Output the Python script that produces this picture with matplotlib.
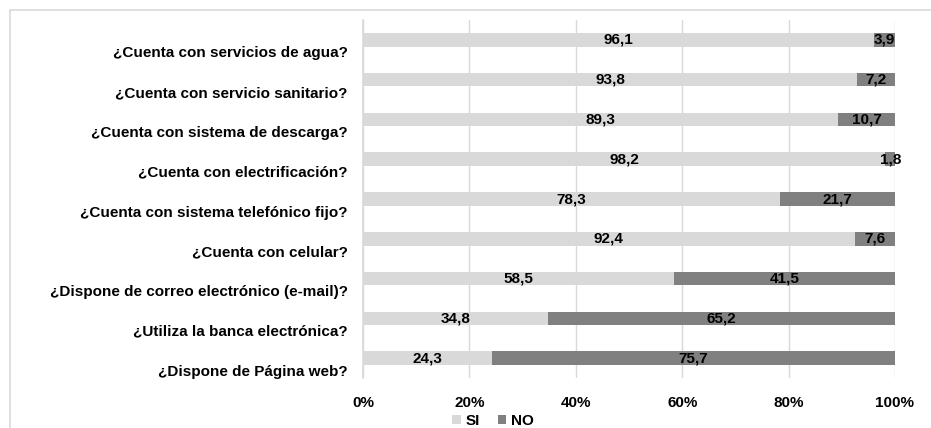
import matplotlib
matplotlib.use('Agg')
import matplotlib.pyplot as plt
import matplotlib.transforms as mtransforms
import numpy as np
from matplotlib.patches import Rectangle

matplotlib.rcParams['font.family'] = ['Liberation Sans', 'DejaVu Sans']
matplotlib.rcParams['font.weight'] = 'bold'

preguntas = ['¿Cuenta con servicios de agua?',
             '¿Cuenta con servicio sanitario?',
             '¿Cuenta con sistema de descarga?',
             '¿Cuenta con electrificación?',
             '¿Cuenta con sistema telefónico fijo?',
             '¿Cuenta con celular?',
             '¿Dispone de correo electrónico (e-mail)?',
             '¿Utiliza la banca electrónica?',
             '¿Dispone de Página web?']
si = [96.1, 93.8, 89.3, 98.2, 78.3, 92.4, 58.5, 34.8, 24.3]
no = [3.9, 7.2, 10.7, 1.8, 21.7, 7.6, 41.5, 65.2, 75.7]
ticks_pct = [0, 20, 40, 60, 80, 100]

c_si = '#d9d9d9'
c_no = '#808080'
fs = 11

fig = plt.figure(figsize=(9.31, 4.28), dpi=100)
# marco exterior del grafico
fig.patches.append(Rectangle((10 / 931, -0.01), 1.0, 1 - 10 / 428 + 0.01, transform=fig.transFigure,
                             fill=False, edgecolor='#d9d9d9', linewidth=1.2))
ax = fig.add_axes([363 / 931, 1 - 378 / 428, 532 / 931, 358 / 428])

si_arr = np.array(si)
no_arr = np.array(no)
total = si_arr + no_arr
si_pct = si_arr / total * 100
no_pct = no_arr / total * 100
y = np.arange(len(preguntas))

ax.barh(y, si_pct, height=0.34, color=c_si, label='SI', zorder=2)
ax.barh(y, no_pct, left=si_pct, height=0.34, color=c_no, label='NO', zorder=2)

for i in range(len(preguntas)):
    ax.text(si_pct[i] / 2, y[i], str(si[i]).replace('.', ','), ha='center', va='center',
            fontsize=fs, fontweight='bold', zorder=3)
    ax.text(si_pct[i] + no_pct[i] / 2, y[i], str(no[i]).replace('.', ','), ha='center', va='center',
            fontsize=fs, fontweight='bold', zorder=3)

ax.set_xlim(0, 100)
ax.set_ylim(len(preguntas) - 0.5, -0.5)
ax.set_yticks(y)
ax.set_yticklabels(preguntas, fontsize=fs, fontweight='bold')
ax.set_xticks(ticks_pct)
ax.set_xticklabels([str(t) + '%' for t in ticks_pct], fontsize=fs, fontweight='bold')
ax.tick_params(axis='both', length=0)
ax.tick_params(axis='y', pad=11)
ax.tick_params(axis='x', pad=13)
# las etiquetas de categoria quedan un poco por debajo de cada barra
offset = mtransforms.ScaledTranslation(0, -12 / 100, fig.dpi_scale_trans)
for lab in ax.get_yticklabels():
    lab.set_transform(lab.get_transform() + offset)
ax.grid(axis='x', color='#d9d9d9', linewidth=1, zorder=0)
for s in ['top', 'right', 'bottom']:
    ax.spines[s].set_visible(False)
ax.spines['left'].set_color('#d9d9d9')
ax.spines['left'].set_linewidth(1.2)

fig.legend(loc='center', bbox_to_anchor=(493 / 931, 1 - 421 / 428), ncol=2, frameon=False,
           handlelength=0.55, handleheight=0.55, handletextpad=0.3, columnspacing=1.2,
           prop={'weight': 'bold', 'size': fs})

fig.savefig('out.png', dpi=100)
